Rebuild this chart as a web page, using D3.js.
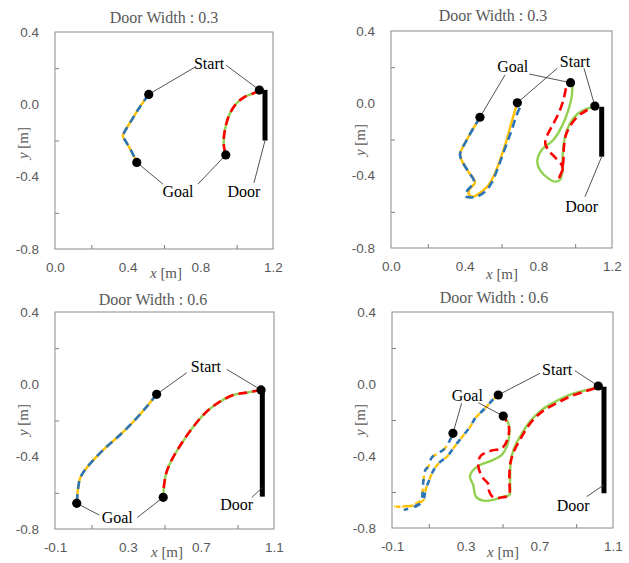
<!DOCTYPE html>
<meta charset="utf-8">
<title>Door Width trajectories</title>
<style>
body{margin:0;background:#fff;}
.tick text{font:13.5px 'Liberation Sans',Arial,sans-serif;fill:#595959;}
.tick line{stroke:#7f7f7f;}
.title{font:16px 'Liberation Serif','Times New Roman',serif;fill:#595959;text-anchor:middle;}
.axlab{font:15px 'Liberation Serif','Times New Roman',serif;fill:#595959;text-anchor:middle;}
.note{font:16px 'Liberation Serif','Times New Roman',serif;fill:#000;text-anchor:middle;}
.leader{stroke:#404040;stroke-width:0.9;fill:none;}
.frame{fill:none;stroke:#898989;stroke-width:1;}
</style>
<svg width="629" height="563"></svg>
<script src="https://d3js.org/d3.v7.min.js"></script>
<script>

var titles = ["Door Width : 0.3", "Door Width : 0.3", "Door Width : 0.6", "Door Width : 0.6"];

var xLabelsTop = [0.0, 0.4, 0.8, 1.2];
var xMinorTop = [0.2, 0.6, 1.0];
var xLabelsBottom = [-0.1, 0.3, 0.7, 1.1];
var xMinorBottom = [0.1, 0.5, 0.9];
var yLabels = [-0.8, -0.4, 0.0, 0.4];
var yMinor = [-0.6, -0.2, 0.2];

// ---- panel 1 (door 0.3)
var p1Orange = [[0.516,0.055],[0.468,-0.013],[0.422,-0.087],[0.38,-0.157],[0.373,-0.175],[0.391,-0.207],[0.422,-0.262],[0.45,-0.321]];
var p1Blue   = [[0.516,0.055],[0.468,-0.013],[0.422,-0.087],[0.38,-0.157],[0.373,-0.175],[0.391,-0.207],[0.422,-0.262],[0.45,-0.321]];
var p1Green  = [[1.125,0.079],[1.092,0.061],[1.046,0.042],[1.0,0.006],[0.963,-0.05],[0.941,-0.114],[0.93,-0.179],[0.93,-0.234],[0.94,-0.28]];
var p1Red    = [[1.125,0.079],[1.092,0.061],[1.046,0.042],[1.0,0.006],[0.963,-0.05],[0.941,-0.114],[0.93,-0.179],[0.93,-0.234],[0.94,-0.28]];
var p1Door   = [[1.156,0.08],[1.156,-0.2]];
var p1Start  = [[0.516,0.055],[1.125,0.079]];
var p1Goal   = [[0.45,-0.321],[0.94,-0.28]];

// ---- panel 2 (door 0.3)
var p2Orange = [[0.483,-0.077],[0.447,-0.138],[0.411,-0.203],[0.375,-0.28],[0.383,-0.313],[0.42,-0.378],[0.456,-0.439],[0.425,-0.476],[0.425,-0.507],[0.447,-0.516],[0.474,-0.502],[0.519,-0.465],[0.556,-0.406],[0.592,-0.313],[0.628,-0.203],[0.655,-0.102],[0.686,0.003]];
var p2Blue   = [[0.483,-0.077],[0.447,-0.138],[0.411,-0.203],[0.375,-0.28],[0.383,-0.313],[0.42,-0.378],[0.451,-0.433],[0.414,-0.483],[0.404,-0.513],[0.429,-0.52],[0.465,-0.516],[0.51,-0.489],[0.547,-0.439],[0.583,-0.35],[0.619,-0.249],[0.655,-0.148],[0.682,-0.065],[0.704,-0.015]];
var p2Green  = [[0.986,0.101],[0.981,0.037],[0.963,-0.037],[0.927,-0.129],[0.881,-0.203],[0.818,-0.258],[0.794,-0.323],[0.809,-0.369],[0.854,-0.415],[0.89,-0.433],[0.917,-0.424],[0.932,-0.369],[0.932,-0.295],[0.945,-0.185],[0.972,-0.111],[1.017,-0.055],[1.062,-0.031],[1.102,-0.019]];
var p2Red    = [[0.95,0.083],[0.936,0.018],[0.914,-0.046],[0.878,-0.12],[0.845,-0.185],[0.838,-0.225],[0.859,-0.264],[0.896,-0.304],[0.927,-0.341],[0.932,-0.369],[0.914,-0.409],[0.927,-0.378],[0.936,-0.313],[0.939,-0.24],[0.95,-0.175],[0.976,-0.12],[1.017,-0.07],[1.059,-0.041],[1.098,-0.022]];
var p2Door   = [[1.144,-0.019],[1.144,-0.295]];
var p2Start  = [[0.686,0.003],[1.107,-0.015]];
var p2Goal   = [[0.483,-0.077],[0.975,0.114]];

// ---- panel 3 (door 0.6)
var p3Orange = [[0.457,-0.055],[0.402,-0.124],[0.329,-0.207],[0.256,-0.28],[0.183,-0.345],[0.11,-0.419],[0.064,-0.474],[0.037,-0.52],[0.028,-0.566],[0.022,-0.621],[0.019,-0.658]];
var p3Blue   = [[0.457,-0.055],[0.402,-0.124],[0.329,-0.207],[0.256,-0.28],[0.183,-0.345],[0.11,-0.419],[0.064,-0.474],[0.037,-0.52],[0.028,-0.566],[0.022,-0.621],[0.019,-0.658]];
var p3Green  = [[1.029,-0.031],[0.95,-0.046],[0.877,-0.059],[0.804,-0.096],[0.731,-0.151],[0.658,-0.234],[0.594,-0.326],[0.539,-0.419],[0.512,-0.483],[0.499,-0.547],[0.493,-0.625]];
var p3Red    = [[1.029,-0.031],[0.95,-0.046],[0.877,-0.059],[0.804,-0.096],[0.731,-0.151],[0.658,-0.234],[0.594,-0.326],[0.539,-0.419],[0.512,-0.483],[0.499,-0.547],[0.493,-0.625]];
var p3Door   = [[1.036,-0.031],[1.036,-0.621]];
var p3Start  = [[0.457,-0.055],[1.029,-0.031]];
var p3Goal   = [[0.019,-0.658],[0.493,-0.625]];

// ---- panel 4 (door 0.6)
var p4Orange = [[0.477,-0.061],[0.45,-0.085],[0.405,-0.135],[0.351,-0.191],[0.325,-0.237],[0.289,-0.283],[0.253,-0.33],[0.226,-0.367],[0.199,-0.404],[0.162,-0.432],[0.132,-0.468],[0.113,-0.506],[0.099,-0.543],[0.085,-0.579],[0.077,-0.617],[0.072,-0.644],[0.034,-0.668],[-0.002,-0.678],[-0.084,-0.682],[-0.002,-0.676],[0.04,-0.66],[0.063,-0.635],[0.067,-0.58],[0.072,-0.524],[0.081,-0.478],[0.097,-0.459],[0.117,-0.407],[0.151,-0.385],[0.188,-0.357],[0.215,-0.311],[0.231,-0.274]];
var p4Blue   = [[0.477,-0.061],[0.45,-0.085],[0.405,-0.135],[0.351,-0.191],[0.325,-0.237],[0.289,-0.283],[0.253,-0.33],[0.226,-0.367],[0.199,-0.404],[0.162,-0.432],[0.132,-0.468],[0.113,-0.506],[0.099,-0.543],[0.085,-0.579],[0.077,-0.617],[0.072,-0.644],[0.04,-0.675],[-0.03,-0.698],[0.01,-0.685],[0.05,-0.665],[0.063,-0.635],[0.067,-0.58],[0.072,-0.524],[0.081,-0.478],[0.097,-0.459],[0.117,-0.407],[0.151,-0.385],[0.188,-0.357],[0.215,-0.311],[0.231,-0.274]];
var p4Green  = [[1.02,-0.015],[0.993,-0.024],[0.921,-0.043],[0.848,-0.067],[0.776,-0.104],[0.713,-0.144],[0.649,-0.209],[0.595,-0.293],[0.559,-0.367],[0.544,-0.441],[0.541,-0.533],[0.537,-0.617],[0.504,-0.626],[0.45,-0.644],[0.396,-0.648],[0.356,-0.626],[0.341,-0.561],[0.323,-0.515],[0.341,-0.478],[0.378,-0.45],[0.441,-0.426],[0.496,-0.394],[0.523,-0.348],[0.537,-0.283],[0.532,-0.218],[0.504,-0.178]];
var p4Red    = [[1.002,-0.024],[0.939,-0.044],[0.866,-0.07],[0.794,-0.107],[0.722,-0.148],[0.658,-0.209],[0.599,-0.302],[0.559,-0.382],[0.541,-0.45],[0.537,-0.533],[0.534,-0.617],[0.496,-0.63],[0.45,-0.63],[0.428,-0.598],[0.423,-0.556],[0.392,-0.519],[0.369,-0.459],[0.381,-0.4],[0.441,-0.37],[0.496,-0.357],[0.526,-0.311],[0.534,-0.233],[0.504,-0.181]];
var p4Door   = [[1.051,-0.015],[1.051,-0.607]];
var p4Start  = [[0.477,-0.061],[1.02,-0.011]];
var p4Goal   = [[0.231,-0.274],[0.504,-0.178]];

// annotations: label position + leader lines (from -> to), in data units
var notes1 = [
  {text:"Start", at:[0.848,0.229], leaders:[[[0.771,0.206],p1Start[0]],[[0.941,0.217],p1Start[1]]]},
  {text:"Goal",  at:[0.677,-0.479], leaders:[[[0.594,-0.441],p1Goal[0]],[[0.787,-0.441],p1Goal[1]]]},
  {text:"Door",  at:[1.04,-0.479], leaders:[[[1.095,-0.435],p1Door[1]]]}
];
var notes2 = [
  {text:"Start", at:[0.999,0.23], leaders:[[[0.903,0.194],p2Start[0]],[[1.048,0.194],p2Start[1]]]},
  {text:"Goal",  at:[0.661,0.203], leaders:[[[0.619,0.157],p2Goal[0]],[[0.751,0.162],p2Goal[1]]]},
  {text:"Door",  at:[1.035,-0.568], leaders:[[[1.053,-0.517],p2Door[1]]]}
];
var notes3 = [
  {text:"Start", at:[0.727,0.101], leaders:[[[0.622,0.064],p3Start[0]],[[0.841,0.083],p3Start[1]]]},
  {text:"Goal",  at:[0.241,-0.736], leaders:[[[0.143,-0.723],p3Goal[0]],[[0.351,-0.736],p3Goal[1]]]},
  {text:"Door",  at:[0.896,-0.666], leaders:[[[0.978,-0.626],[1.036,-0.57]]]}
];
var notes4 = [
  {text:"Start", at:[0.797,0.082], leaders:[[[0.703,0.059],p4Start[0]],[[0.893,0.074],p4Start[1]]]},
  {text:"Goal",  at:[0.309,-0.061], leaders:[[[0.278,-0.107],p4Goal[0]],[[0.369,-0.104],p4Goal[1]]]},
  {text:"Door",  at:[0.884,-0.672], leaders:[[[0.957,-0.626],[1.051,-0.56]]]}
];

var panels = [
  {box:[55,273,32,249], xDomain:[0,1.2], xLab:xLabelsTop, xMin:xMinorTop, title:titles[0], titleAt:[164,17], xTitleAt:[166,273], yTitleAt:[23,143],
   orange:p1Orange, blue:p1Blue, green:p1Green, red:p1Red, door:p1Door, start:p1Start, goal:p1Goal, notes:notes1, orangeDashed:false},
  {box:[391,612,31,248], xDomain:[0,1.2], xLab:xLabelsTop, xMin:xMinorTop, title:titles[1], titleAt:[493,15], xTitleAt:[502,274], yTitleAt:[360,140],
   orange:p2Orange, blue:p2Blue, green:p2Green, red:p2Red, door:p2Door, start:p2Start, goal:p2Goal, notes:notes2, orangeDashed:false},
  {box:[55,274,312,529], xDomain:[-0.1,1.1], xLab:xLabelsBottom, xMin:xMinorBottom, title:titles[2], titleAt:[153,299], xTitleAt:[167,552], yTitleAt:[23,420],
   orange:p3Orange, blue:p3Blue, green:p3Green, red:p3Red, door:p3Door, start:p3Start, goal:p3Goal, notes:notes3, orangeDashed:false},
  {box:[392,613,312,528], xDomain:[-0.1,1.1], xLab:xLabelsBottom, xMin:xMinorBottom, title:titles[3], titleAt:[494,297], xTitleAt:[503,552], yTitleAt:[360,420],
   orange:p4Orange, blue:p4Blue, green:p4Green, red:p4Red, door:p4Door, start:p4Start, goal:p4Goal, notes:notes4, orangeDashed:true}
];

var svg = d3.select("svg");
var fmt = function(d){ return d.toFixed(1); };

panels.forEach(function(p) {
  var left = p.box[0], right = p.box[1], top = p.box[2], bottom = p.box[3];
  var x = d3.scaleLinear().domain(p.xDomain).range([left, right]);
  var y = d3.scaleLinear().domain([-0.8, 0.4]).range([bottom, top]);
  var g = svg.append("g");

  // labelled ticks (no marks) and inside minor marks
  g.append("g").attr("transform", "translate(0," + bottom + ")")
    .call(d3.axisBottom(x).tickValues(p.xLab).tickSize(0).tickPadding(13).tickFormat(fmt))
    .call(function(a){ a.select(".domain").remove(); });
  g.append("g").attr("transform", "translate(0," + bottom + ")")
    .call(d3.axisBottom(x).tickValues(p.xMin).tickSize(-4).tickFormat(""))
    .call(function(a){ a.select(".domain").remove(); });
  g.append("g").attr("transform", "translate(" + left + ",0)")
    .call(d3.axisLeft(y).tickValues(yLabels).tickSize(0).tickPadding(16).tickFormat(fmt))
    .call(function(a){ a.select(".domain").remove(); });
  g.append("g").attr("transform", "translate(" + left + ",0)")
    .call(d3.axisLeft(y).tickValues(yMinor).tickSize(-4).tickFormat(""))
    .call(function(a){ a.select(".domain").remove(); });

  g.append("rect").attr("class", "frame")
    .attr("x", left).attr("y", top).attr("width", right - left).attr("height", bottom - top);

  g.append("text").attr("class", "title")
    .attr("x", p.titleAt[0]).attr("y", p.titleAt[1]).attr("dy", "0.35em").text(p.title);

  var xt = g.append("text").attr("class", "axlab")
    .attr("x", p.xTitleAt[0]).attr("y", p.xTitleAt[1]).attr("dy", "0.35em");
  xt.append("tspan").style("font-style", "italic").text("x");
  xt.append("tspan").text(" [m]");

  var yt = g.append("text").attr("class", "axlab")
    .attr("transform", "translate(" + p.yTitleAt[0] + "," + p.yTitleAt[1] + ") rotate(-90)")
    .attr("dy", "0.35em");
  yt.append("tspan").style("font-style", "italic").text("y");
  yt.append("tspan").text(" [m]");

  var line = d3.line()
    .x(function(d){ return x(d[0]); })
    .y(function(d){ return y(d[1]); })
    .curve(d3.curveCatmullRom.alpha(0.5));

  g.append("path").attr("d", line(p.green))
    .attr("fill", "none").attr("stroke", "#92d050").attr("stroke-width", 2.4);
  g.append("path").attr("d", line(p.red))
    .attr("fill", "none").attr("stroke", "#ff0000").attr("stroke-width", 2.6)
    .attr("stroke-dasharray", "9,5");

  var o = g.append("path").attr("d", line(p.orange))
    .attr("fill", "none").attr("stroke", "#ffc000").attr("stroke-width", 2.4);
  var b = g.append("path").attr("d", line(p.blue))
    .attr("fill", "none").attr("stroke", "#2e75b6").attr("stroke-width", 2.6);
  if (p.orangeDashed) {
    o.attr("stroke-dasharray", "6,7");
    b.attr("stroke-dasharray", "6,7").attr("stroke-dashoffset", 6.5);
  } else {
    b.attr("stroke-dasharray", "8,5");
  }

  // door
  g.append("path").attr("d", d3.line()(p.door.map(function(d){ return [x(d[0]), y(d[1])]; })))
    .attr("stroke", "#000").attr("stroke-width", 5);

  // annotations
  p.notes.forEach(function(n) {
    n.leaders.forEach(function(l) {
      g.append("line").attr("class", "leader")
        .attr("x1", x(l[0][0])).attr("y1", y(l[0][1]))
        .attr("x2", x(l[1][0])).attr("y2", y(l[1][1]));
    });
    g.append("text").attr("class", "note")
      .attr("x", x(n.at[0])).attr("y", y(n.at[1])).attr("dy", "0.35em").text(n.text);
  });

  g.selectAll(".pt").data(p.start.concat(p.goal)).enter().append("circle")
    .attr("cx", function(d){ return x(d[0]); })
    .attr("cy", function(d){ return y(d[1]); })
    .attr("r", 4.6).attr("fill", "#000");
});
</script>
